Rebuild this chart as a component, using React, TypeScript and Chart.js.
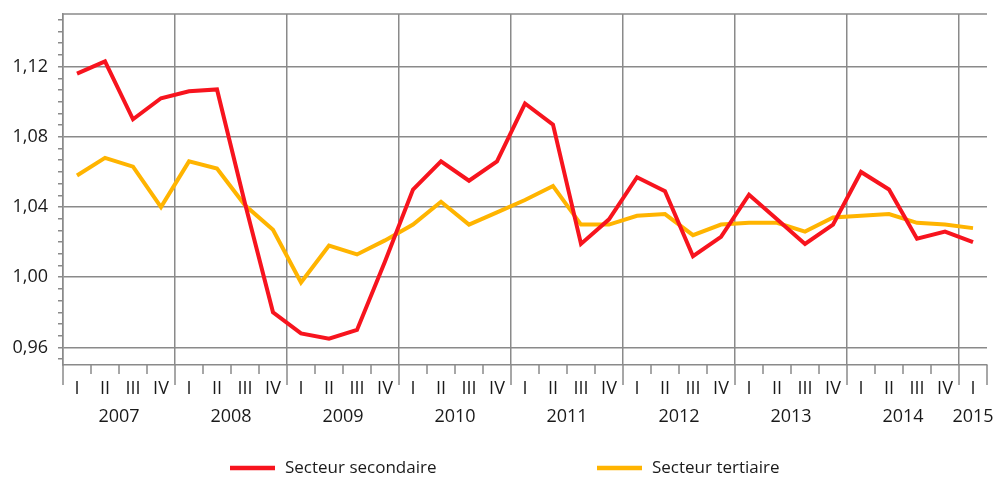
import React, { useEffect, useRef } from "react";
import { Chart, registerables } from "chart.js";

Chart.register(...registerables);

const quarters = ["I", "II", "III", "IV"];
const years = ["2007", "2008", "2009", "2010", "2011", "2012", "2013", "2014", "2015"];
const quartersPerYear = [4, 4, 4, 4, 4, 4, 4, 4, 1];

const secondaire = [
  1.116, 1.123, 1.090, 1.102,
  1.106, 1.107, 1.042, 0.980,
  0.968, 0.965, 0.970, 1.009,
  1.050, 1.066, 1.055, 1.066,
  1.099, 1.087, 1.019, 1.033,
  1.057, 1.049, 1.012, 1.023,
  1.047, 1.033, 1.019, 1.030,
  1.060, 1.050, 1.022, 1.026,
  1.020,
];

const tertiaire = [
  1.058, 1.068, 1.063, 1.040,
  1.066, 1.062, 1.041, 1.027,
  0.997, 1.018, 1.013, 1.021,
  1.030, 1.043, 1.030, 1.037,
  1.044, 1.052, 1.030, 1.030,
  1.035, 1.036, 1.024, 1.030,
  1.031, 1.031, 1.026, 1.034,
  1.035, 1.036, 1.031, 1.030,
  1.028,
];

const seriesNames = ["Secteur secondaire", "Secteur tertiaire"];
const seriesColors = ["#f7141e", "#ffb400"];

const yMin = 0.95;
const yMax = 1.15;
const yMajorBase = 0.96;
const yMajorStep = 0.04;
const yMinorPerMajor = 6;

const FONT = "'Open Sans', 'Noto Sans', sans-serif";
const GRID = "#8a8a8a";
const TEXT = "#1a1a1a";

function buildLabels(): string[] {
  const out: string[] = [];
  years.forEach((_, yi) => {
    for (let q = 0; q < quartersPerYear[yi]; q++) out.push(quarters[q]);
  });
  return out;
}

function isMajorY(v: number): boolean {
  const k = Math.round((v - yMajorBase) / (yMajorStep / yMinorPerMajor));
  return ((k % yMinorPerMajor) + yMinorPerMajor) % yMinorPerMajor === 0;
}

export default function App() {
  const ref = useRef<HTMLCanvasElement | null>(null);

  useEffect(() => {
    if (!ref.current) return;
    const labels = buildLabels();
    const n = labels.length;

    const overlay = {
      id: "overlay",
      afterDraw(chart: any) {
        const ctx = chart.ctx;
        const area = chart.chartArea;
        const xs = chart.scales.x;
        ctx.save();
        // top border
        ctx.strokeStyle = GRID;
        ctx.lineWidth = 1.5;
        ctx.beginPath();
        ctx.moveTo(area.left, area.top);
        ctx.lineTo(area.right, area.top);
        ctx.stroke();
        // x tick marks
        for (let i = 0; i <= n; i++) {
          const x = xs.getPixelForValue(i - 0.5);
          const major = i % 4 === 0 || i === n;
          const len = major ? 20 : 9;
          ctx.beginPath();
          ctx.moveTo(x, area.bottom);
          ctx.lineTo(x, area.bottom + len);
          ctx.stroke();
        }
        // year labels
        ctx.fillStyle = TEXT;
        ctx.font = `18px ${FONT}`;
        ctx.textAlign = "center";
        ctx.textBaseline = "middle";
        let start = 0;
        years.forEach((yr, yi) => {
          const cnt = quartersPerYear[yi];
          const x = xs.getPixelForValue(start + (cnt - 1) / 2);
          ctx.fillText(yr, x, area.bottom + 52);
          start += cnt;
        });
        // legend
        const legendY = 468;
        const items = [
          { x: 230, name: seriesNames[0], color: seriesColors[0] },
          { x: 597, name: seriesNames[1], color: seriesColors[1] },
        ];
        ctx.font = `17px ${FONT}`;
        ctx.textAlign = "left";
        items.forEach((it) => {
          ctx.strokeStyle = it.color;
          ctx.lineWidth = 4.5;
          ctx.beginPath();
          ctx.moveTo(it.x, legendY);
          ctx.lineTo(it.x + 45, legendY);
          ctx.stroke();
          ctx.fillStyle = TEXT;
          ctx.fillText(it.name, it.x + 55, legendY);
        });
        ctx.restore();
      },
    };

    const chart = new Chart(ref.current, {
      type: "line",
      data: {
        labels,
        datasets: [
          {
            label: seriesNames[0],
            data: secondaire,
            borderColor: seriesColors[0],
            backgroundColor: seriesColors[0],
            borderWidth: 4,
            pointRadius: 0,
            tension: 0,
          },
          {
            label: seriesNames[1],
            data: tertiaire,
            borderColor: seriesColors[1],
            backgroundColor: seriesColors[1],
            borderWidth: 4,
            pointRadius: 0,
            tension: 0,
          },
        ],
      },
      options: {
        responsive: false,
        animation: false,
        layout: { padding: { left: 0, right: 11, top: 14, bottom: 0 } },
        plugins: {
          legend: { display: false },
          tooltip: { enabled: false },
        },
        scales: {
          x: {
            type: "category",
            offset: true,
            grid: {
              offset: true,
              drawTicks: false,
              lineWidth: 1.5,
              color: (c: any) => (c.index % 4 === 0 || c.index === n ? GRID : "rgba(0,0,0,0)"),
            },
            border: { display: true, color: GRID, width: 1.5 },
            ticks: {
              autoSkip: false,
              maxRotation: 0,
              minRotation: 0,
              padding: 13,
              color: TEXT,
              font: { family: FONT, size: 18 },
            },
            afterFit: (s: any) => {
              s.height = 114;
            },
          },
          y: {
            type: "linear",
            min: yMin,
            max: yMax,
            afterBuildTicks: (s: any) => {
              const step = yMajorStep / yMinorPerMajor;
              const t: any[] = [];
              for (let k = -1; k <= 28; k++) {
                const v = yMajorBase + k * step;
                if (v >= yMin - 1e-9 && v <= yMax + 1e-9) t.push({ value: v });
              }
              s.ticks = t;
            },
            grid: {
              lineWidth: 1.5,
              tickLength: 5,
              color: (c: any) => (c.tick && isMajorY(c.tick.value) ? GRID : "rgba(0,0,0,0)"),
              tickColor: GRID,
            },
            border: { display: true, color: GRID, width: 1.5 },
            ticks: {
              autoSkip: false,
              padding: 10,
              color: TEXT,
              font: { family: FONT, size: 18, lineHeight: "8px" },
              callback: (v: any) => (isMajorY(Number(v)) ? Number(v).toFixed(2).replace(".", ",") : ""),
            },
            afterFit: (s: any) => {
              s.width = 63;
            },
          },
        },
      },
      plugins: [overlay],
    });
    return () => chart.destroy();
  }, []);

  return (
    <div style={{ position: "absolute", left: 0, top: 0, width: 998, height: 479, background: "#fff" }}>
      <canvas ref={ref} width={998} height={479} style={{ display: "block" }} />
    </div>
  );
}
